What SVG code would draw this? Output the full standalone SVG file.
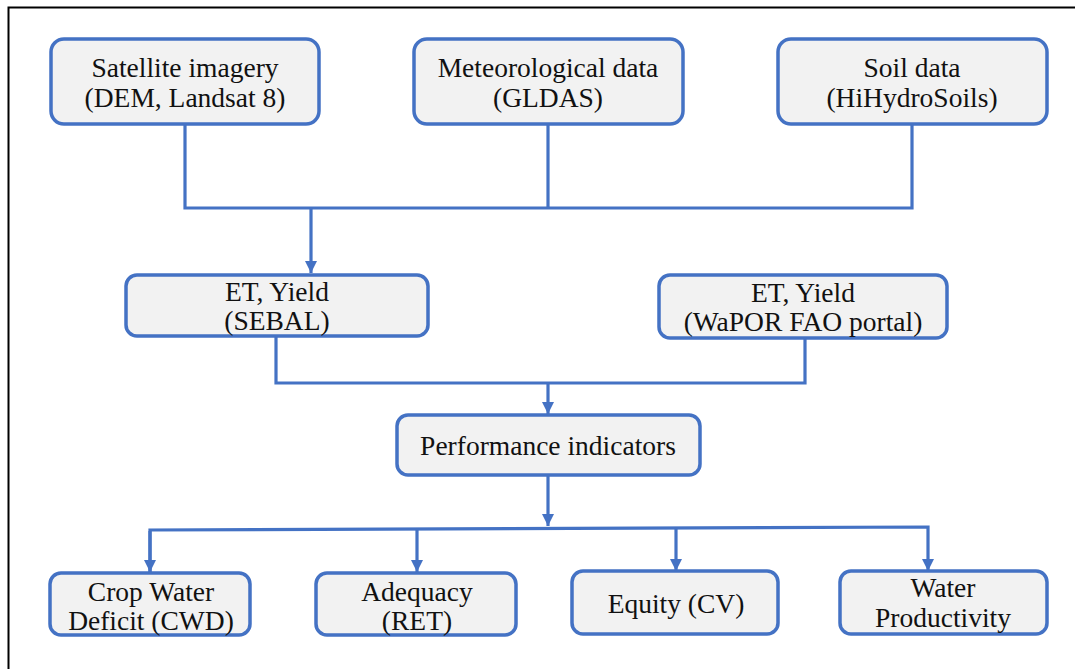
<svg xmlns="http://www.w3.org/2000/svg" width="1075" height="669" viewBox="0 0 1075 669">
<style>
.box{fill:#F2F2F2;stroke:#4472C4;stroke-width:3.5}
.t{font-family:"Liberation Serif","Times New Roman",serif;font-size:27.5px;fill:#111;text-anchor:middle}
.c{fill:none;stroke:#4472C4;stroke-width:3.2}
.ah{fill:#4472C4}
</style>
<defs>
<marker id="arr" markerUnits="userSpaceOnUse" markerWidth="14" markerHeight="14" refX="12" refY="6" orient="auto">
<path d="M0,0 L12,6 L0,12 Z" class="ah"/>
</marker>
</defs>
<rect width="1075" height="669" fill="#fff"/>
<path d="M8.5,669 V7.5 H1075" fill="none" stroke="#000" stroke-width="2"/>
<g id="connectors">
<path class="c" d="M185,124 V208 H912 V124"/>
<path class="c" d="M548,124 V208"/>
<path class="c" d="M311,208 V273" marker-end="url(#arr)"/>
<path class="c" d="M276,336 V383 H805 V338"/>
<path class="c" d="M548,383 V414" marker-end="url(#arr)"/>
<path class="c" d="M548,475 V526" marker-end="url(#arr)"/>
<path class="c" d="M150,572 V530 L928,527 V571" marker-end="url(#arr)"/>
<path class="c" d="M150,531 V572" marker-end="url(#arr)"/>
<path class="c" d="M417,530 V572" marker-end="url(#arr)"/>
<path class="c" d="M676,528 V571" marker-end="url(#arr)"/>
</g>
<g id="satellite">
<rect class="box" x="51" y="39" width="268" height="85" rx="13"/>
<text class="t" x="185" y="77">Satellite imagery</text>
<text class="t" x="185" y="107">(DEM, Landsat 8)</text>
</g>
<g id="meteo">
<rect class="box" x="414" y="39" width="269" height="85" rx="13"/>
<text class="t" x="548" y="77">Meteorological data</text>
<text class="t" x="548" y="107">(GLDAS)</text>
</g>
<g id="soil">
<rect class="box" x="778" y="39" width="269" height="85" rx="13"/>
<text class="t" x="912" y="77">Soil data</text>
<text class="t" x="912" y="107">(HiHydroSoils)</text>
</g>
<g id="sebal">
<rect class="box" x="126" y="275" width="302" height="61" rx="11"/>
<text class="t" x="277" y="301">ET, Yield</text>
<text class="t" x="277" y="330">(SEBAL)</text>
</g>
<g id="wapor">
<rect class="box" x="659" y="275" width="288" height="63" rx="11"/>
<text class="t" x="803" y="302">ET, Yield</text>
<text class="t" x="803" y="331">(WaPOR FAO portal)</text>
</g>
<g id="performance">
<rect class="box" x="397" y="415" width="303" height="60" rx="11"/>
<text class="t" x="548" y="455">Performance indicators</text>
</g>
<g id="cwd">
<rect class="box" x="50" y="573" width="200" height="62" rx="11"/>
<text class="t" x="151" y="601">Crop Water</text>
<text class="t" x="151" y="630">Deficit (CWD)</text>
</g>
<g id="adequacy">
<rect class="box" x="316" y="573" width="200" height="62" rx="11"/>
<text class="t" x="417" y="601">Adequacy</text>
<text class="t" x="417" y="630">(RET)</text>
</g>
<g id="equity">
<rect class="box" x="572" y="571" width="206" height="63" rx="11"/>
<text class="t" x="676" y="613">Equity (CV)</text>
</g>
<g id="water">
<rect class="box" x="840" y="571" width="207" height="63" rx="11"/>
<text class="t" x="943" y="597">Water</text>
<text class="t" x="943" y="627">Productivity</text>
</g>
</svg>
